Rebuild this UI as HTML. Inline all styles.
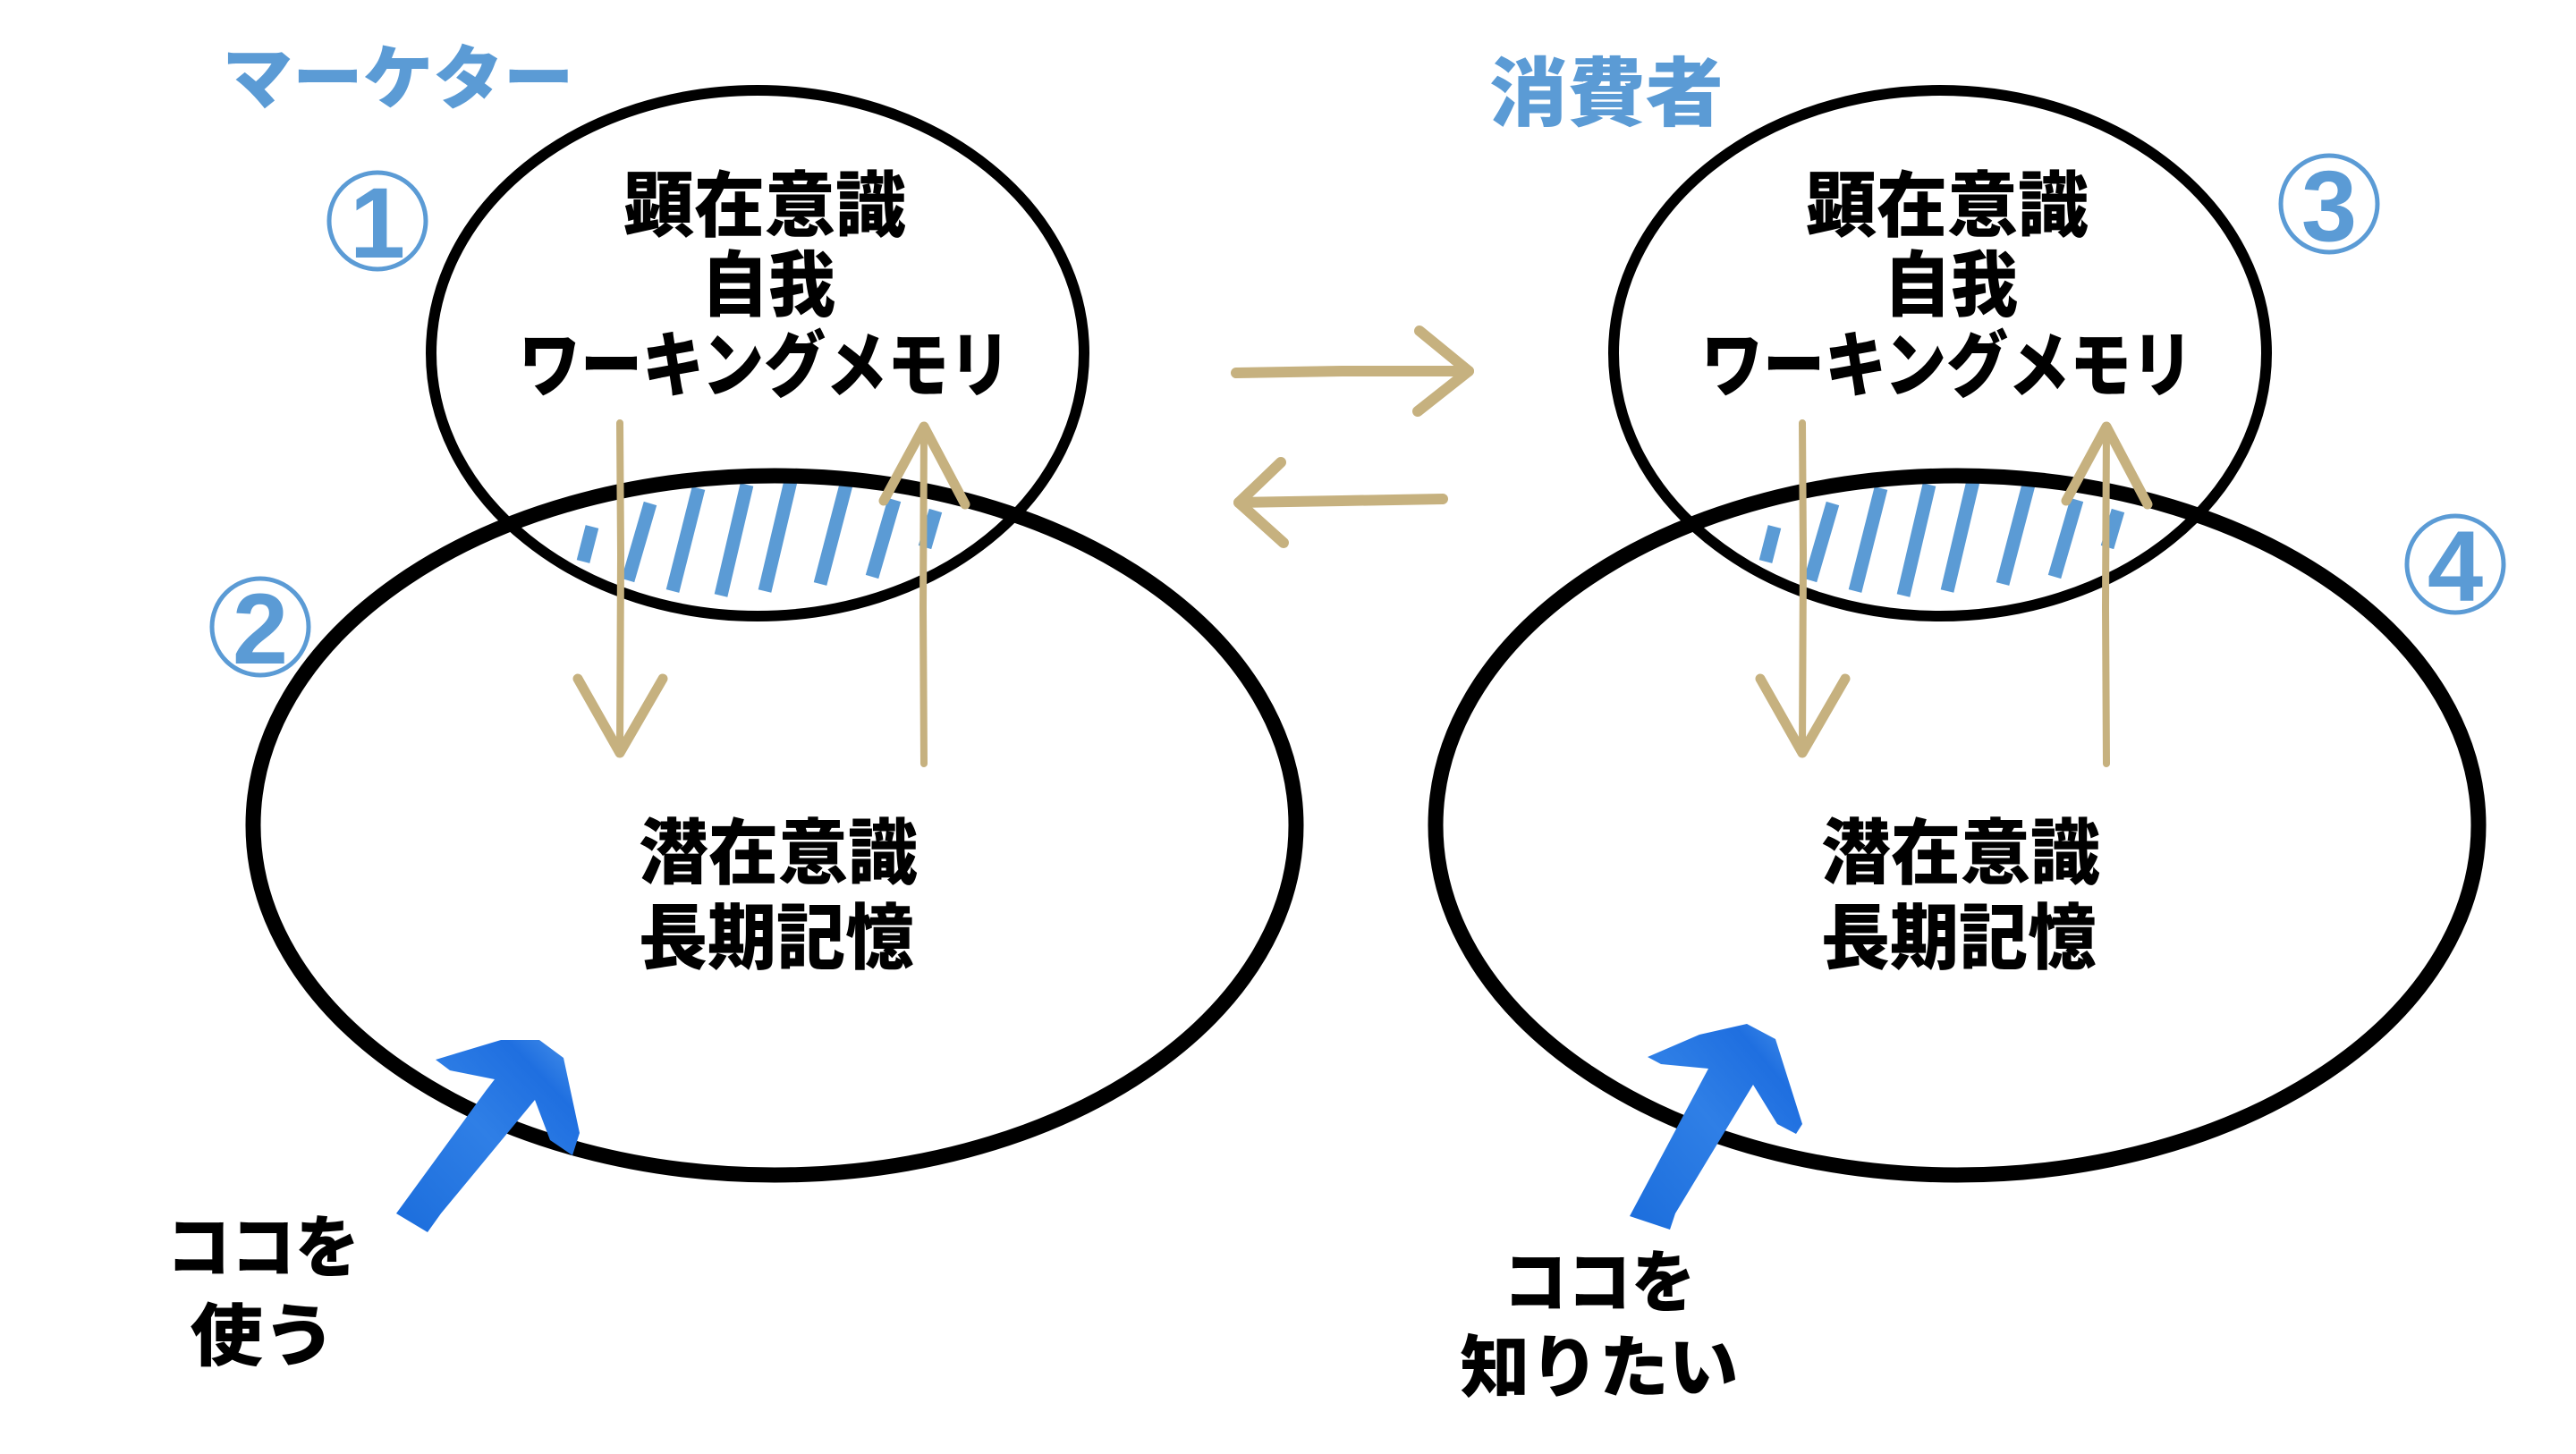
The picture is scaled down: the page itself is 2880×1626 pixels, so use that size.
<!DOCTYPE html>
<html>
<head>
<meta charset="utf-8">
<style>
  html, body { margin: 0; padding: 0; background: #ffffff; }
  body { width: 2880px; height: 1626px; overflow: hidden; }
  svg { display: block; }
  .jp { font-family: "Liberation Sans", "Noto Sans CJK JP", "Noto Sans CJK SC", sans-serif; font-weight: 900; }
  .blk { fill: #000; }
  .blu { fill: #5b9bd5; }
  .num { font-family: "Liberation Sans", sans-serif; font-weight: 700; fill: #5b9bd5; }
</style>
</head>
<body>
<svg width="2880" height="1626" viewBox="0 0 2880 1626" xmlns="http://www.w3.org/2000/svg">
  <defs>
    <linearGradient id="brush" x1="0" y1="1" x2="1" y2="0">
      <stop offset="0" stop-color="#1b6ddc"/>
      <stop offset="0.5" stop-color="#2f7fe6"/>
      <stop offset="0.8" stop-color="#1f6fe0"/>
      <stop offset="1" stop-color="#4a93ea"/>
    </linearGradient>
  </defs>
  <rect width="2880" height="1626" fill="#fff"/>

  <!-- Titles -->
  <text class="jp blu" x="445" y="115" font-size="78" text-anchor="middle" textLength="393" lengthAdjust="spacingAndGlyphs">マーケター</text>
  <text class="jp blu" x="1796" y="134" font-size="84" text-anchor="middle" textLength="262" lengthAdjust="spacingAndGlyphs">消費者</text>

  <!-- Circled numbers -->
  <g fill="none" stroke="#5b9bd5" stroke-width="5">
    <circle cx="422" cy="247" r="54"/>
    <circle cx="291" cy="701" r="54"/>
    <circle cx="2604" cy="228" r="54"/>
    <circle cx="2745" cy="631" r="54"/>
  </g>
  <text class="num" x="422" y="288" font-size="112" text-anchor="middle">1</text>
  <text class="num" x="291" y="742" font-size="112" text-anchor="middle">2</text>
  <text class="num" x="2604" y="269" font-size="112" text-anchor="middle">3</text>
  <text class="num" x="2745" y="672" font-size="112" text-anchor="middle">4</text>

  <!-- Left system -->
  <g id="sys">
    <!-- stripes -->
    <g stroke="#5b9bd5" stroke-width="15" stroke-linecap="butt">
      <line x1="652" y1="628" x2="662" y2="589"/>
      <line x1="702" y1="649" x2="727" y2="563"/>
      <line x1="752" y1="661" x2="781" y2="546"/>
      <line x1="806" y1="666" x2="835" y2="542"/>
      <line x1="855" y1="661" x2="884" y2="538"/>
      <line x1="917" y1="653" x2="946" y2="542"/>
      <line x1="975" y1="645" x2="1000" y2="559"/>
      <line x1="1034" y1="612" x2="1046" y2="571"/>
    </g>
    <!-- ellipses -->
    <ellipse cx="847" cy="395" rx="365" ry="294" fill="none" stroke="#000" stroke-width="12"/>
    <ellipse cx="866" cy="923" rx="583" ry="391" fill="none" stroke="#000" stroke-width="17"/>

    <!-- tan vertical arrows -->
    <g fill="none" stroke="#c6b17f" stroke-linecap="round" stroke-linejoin="round">
      <path d="M693 473 L694 620 L693 842" stroke-width="8"/>
      <path d="M646 759 L693 842 L741 759" stroke-width="11"/>
      <path d="M1033 854 L1032 680 L1033 477" stroke-width="8"/>
      <path d="M988 560 L1033 477 L1079 564" stroke-width="11"/>
    </g>

    <!-- text -->
    <g class="jp blk" text-anchor="middle" font-size="80">
      <text x="855" y="258" textLength="316" lengthAdjust="spacingAndGlyphs">顕在意識</text>
      <text x="859" y="347" textLength="150" lengthAdjust="spacingAndGlyphs">自我</text>
      <text x="855" y="437" textLength="550" lengthAdjust="spacingAndGlyphs">ワーキングメモリ</text>
      <text x="870" y="982" textLength="312" lengthAdjust="spacingAndGlyphs">潜在意識</text>
      <text x="868" y="1077" textLength="308" lengthAdjust="spacingAndGlyphs">長期記憶</text>
    </g>
  </g>

  <!-- Right system (shifted copy) -->
  <use href="#sys" transform="translate(1322,0)"/>

  <!-- middle arrows -->
  <g fill="none" stroke="#c6b17f" stroke-linecap="round" stroke-linejoin="round" stroke-width="12">
    <path d="M1382 417 L1500 415 L1642 415"/>
    <path d="M1587 370 L1642 415 L1585 460"/>
    <path d="M1613 558 L1500 560 L1385 562"/>
    <path d="M1432 517 L1385 562 L1435 607"/>
  </g>

  <!-- blue brush arrows -->
  <polygon fill="url(#brush)" points="443,1357 478,1378 493,1357 598,1230 615,1275 640,1292 648,1267 630,1183 603,1163 560,1163 487,1185 503,1197 553,1207 543,1220"/>
  <polygon fill="url(#brush)" points="1822,1360 1867,1375 1873,1357 1960,1213 1987,1257 2008,1268 2015,1257 1985,1162 1953,1145 1900,1157 1842,1182 1857,1190 1910,1195"/>

  <!-- bottom labels -->
  <g class="jp blk" text-anchor="middle" font-size="76">
    <text x="294" y="1422" textLength="216" lengthAdjust="spacingAndGlyphs">ココを</text>
    <text x="294" y="1521" textLength="163" lengthAdjust="spacingAndGlyphs">使う</text>
    <text x="1788" y="1461" textLength="215" lengthAdjust="spacingAndGlyphs">ココを</text>
    <text x="1788" y="1556" textLength="311" lengthAdjust="spacingAndGlyphs">知りたい</text>
  </g>
</svg>
</body>
</html>
